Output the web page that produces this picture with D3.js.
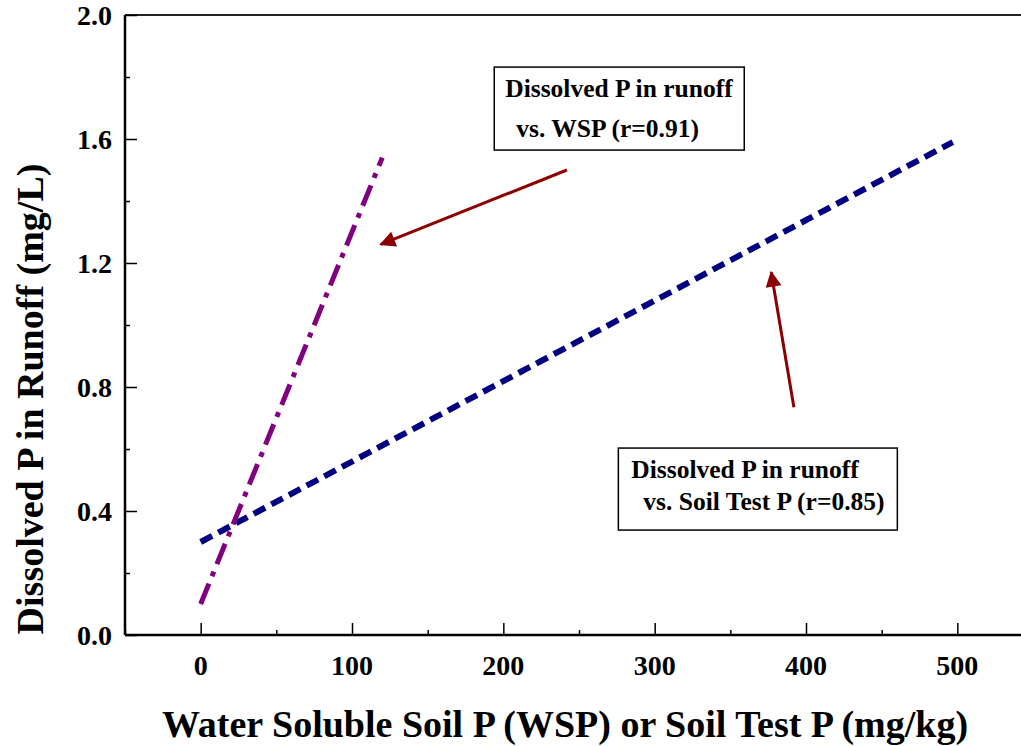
<!DOCTYPE html>
<html>
<head>
<meta charset="utf-8">
<script src="https://cdn.jsdelivr.net/npm/d3@7"></script>
<style>
  body { margin: 0; background: #fff; }
  svg { display: block; font-family: "Liberation Serif", "Times New Roman", serif; font-weight: bold; }
  text { fill: #000; font-family: "Liberation Serif", "Times New Roman", serif; font-weight: bold; }
</style>
</head>
<body>
<svg id="chart" width="1021" height="746"></svg>
<script>
// fitted lines: [x (mg/kg), dissolved P (mg/L)]
var wspLine = [[0, 0.10], [120, 1.54]];
var stpLine = [[0, 0.30], [497, 1.59]];

var xTicks = [0, 100, 200, 300, 400, 500];
var xMinor = [-50, 50, 150, 250, 350, 450, 550];
var yTicks = [0.0, 0.4, 0.8, 1.2, 1.6, 2.0];
var yMinor = [0.2, 0.6, 1.0, 1.4, 1.8];

// annotation boxes (top-left corner in data units) and arrows
var labels = [
  {lines: ["Dissolved P in runoff", "vs. WSP (r=0.91)"], x: 194, y: 1.832, w: 250, h: 83, indent: [11, 22], base: [30, 70]},
  {lines: ["Dissolved P in runoff", "vs. Soil Test P (r=0.85)"], x: 276, y: 0.603, w: 279, h: 82, indent: [13, 25], base: [30, 62]}
];
var arrows = [
  {from: [242, 1.50], to: [119, 1.26]},
  {from: [392, 0.735], to: [377, 1.17]}
];

var svg = d3.select("#chart");

var x = d3.scaleLinear().domain([-50, 550]).range([125, 1033]);
var y = d3.scaleLinear().domain([0, 2]).range([635, 15]);

svg.append("defs").append("marker")
    .attr("id", "head")
    .attr("viewBox", "0 0 10 10")
    .attr("refX", 9).attr("refY", 5)
    .attr("markerWidth", 28).attr("markerHeight", 16)
    .attr("markerUnits", "userSpaceOnUse")
    .attr("orient", "auto")
  .append("path")
    .attr("d", "M0,0 L10,5 L0,10 Z")
    .attr("fill", "#8b0000");

// frame: top and bottom lines run to the edge, left axis
svg.append("line").attr("x1", 125).attr("x2", 1021).attr("y1", y(2)).attr("y2", y(2))
    .attr("stroke", "#222").attr("stroke-width", 2);

var xAxis = svg.append("g").attr("transform", "translate(0," + y(0) + ")");
xAxis.call(d3.axisTop(x).tickValues(xTicks).tickSize(12).tickFormat(""));
xAxis.append("g").call(d3.axisTop(x).tickValues(xMinor).tickSize(5).tickFormat(""));
xAxis.selectAll(".domain").remove();
xAxis.append("line").attr("x1", 125).attr("x2", 1021).attr("stroke", "#000").attr("stroke-width", 2.5);
xAxis.selectAll(".tick line").attr("stroke", "#000").attr("stroke-width", 1.5);
xAxis.selectAll(".xl").data(xTicks).enter().append("text")
    .attr("x", function(d) { return x(d); })
    .attr("y", 40)
    .attr("text-anchor", "middle")
    .attr("font-size", 28)
    .text(function(d) { return d; });

var yAxis = svg.append("g").attr("transform", "translate(125,0)");
yAxis.call(d3.axisRight(y).tickValues(yTicks).tickSize(12).tickFormat(""));
yAxis.append("g").call(d3.axisRight(y).tickValues(yMinor).tickSize(5).tickFormat(""));
yAxis.selectAll(".domain").remove();
yAxis.append("line").attr("y1", 15).attr("y2", 635).attr("stroke", "#000").attr("stroke-width", 2.5);
yAxis.selectAll(".tick line").attr("stroke", "#000").attr("stroke-width", 1.5);
yAxis.selectAll(".yl").data(yTicks).enter().append("text")
    .attr("x", -13)
    .attr("y", function(d) { return y(d); })
    .attr("dy", "0.35em")
    .attr("text-anchor", "end")
    .attr("font-size", 28)
    .text(function(d) { return d.toFixed(1); });

// axis titles
svg.append("text")
    .attr("x", 565).attr("y", 737)
    .attr("text-anchor", "middle")
    .attr("font-size", 38)
    .text("Water Soluble Soil P (WSP) or Soil Test P (mg/kg)");

svg.append("text")
    .attr("transform", "translate(43,399) rotate(-90)")
    .attr("text-anchor", "middle")
    .attr("font-size", 38)
    .text("Dissolved P in Runoff (mg/L)");

var line = d3.line()
    .x(function(d) { return x(d[0]); })
    .y(function(d) { return y(d[1]); });

svg.append("path")
    .datum(stpLine)
    .attr("d", line)
    .attr("fill", "none")
    .attr("stroke", "#000080")
    .attr("stroke-width", 6)
    .attr("stroke-dasharray", "13,7");

svg.append("path")
    .datum(wspLine)
    .attr("d", line)
    .attr("fill", "none")
    .attr("stroke", "#800080")
    .attr("stroke-width", 5)
    .attr("stroke-dasharray", "22,8,5,8");

// arrows
svg.selectAll(".arrow").data(arrows).enter().append("line")
    .attr("x1", function(d) { return x(d.from[0]); })
    .attr("y1", function(d) { return y(d.from[1]); })
    .attr("x2", function(d) { return x(d.to[0]); })
    .attr("y2", function(d) { return y(d.to[1]); })
    .attr("stroke", "#8b0000")
    .attr("stroke-width", 3)
    .attr("marker-end", "url(#head)");

// annotation boxes
var box = svg.selectAll(".box").data(labels).enter().append("g")
    .attr("transform", function(d) { return "translate(" + x(d.x) + "," + y(d.y) + ")"; });
box.append("rect")
    .attr("width", function(d) { return d.w; })
    .attr("height", function(d) { return d.h; })
    .attr("fill", "#fff")
    .attr("stroke", "#000")
    .attr("stroke-width", 1.5);
box.each(function(d) {
  var g = d3.select(this);
  d.lines.forEach(function(t, i) {
    g.append("text")
      .attr("x", d.indent[i])
      .attr("y", d.base[i])
      .attr("font-size", 25.5)
      .text(t);
  });
});
</script>
</body>
</html>
